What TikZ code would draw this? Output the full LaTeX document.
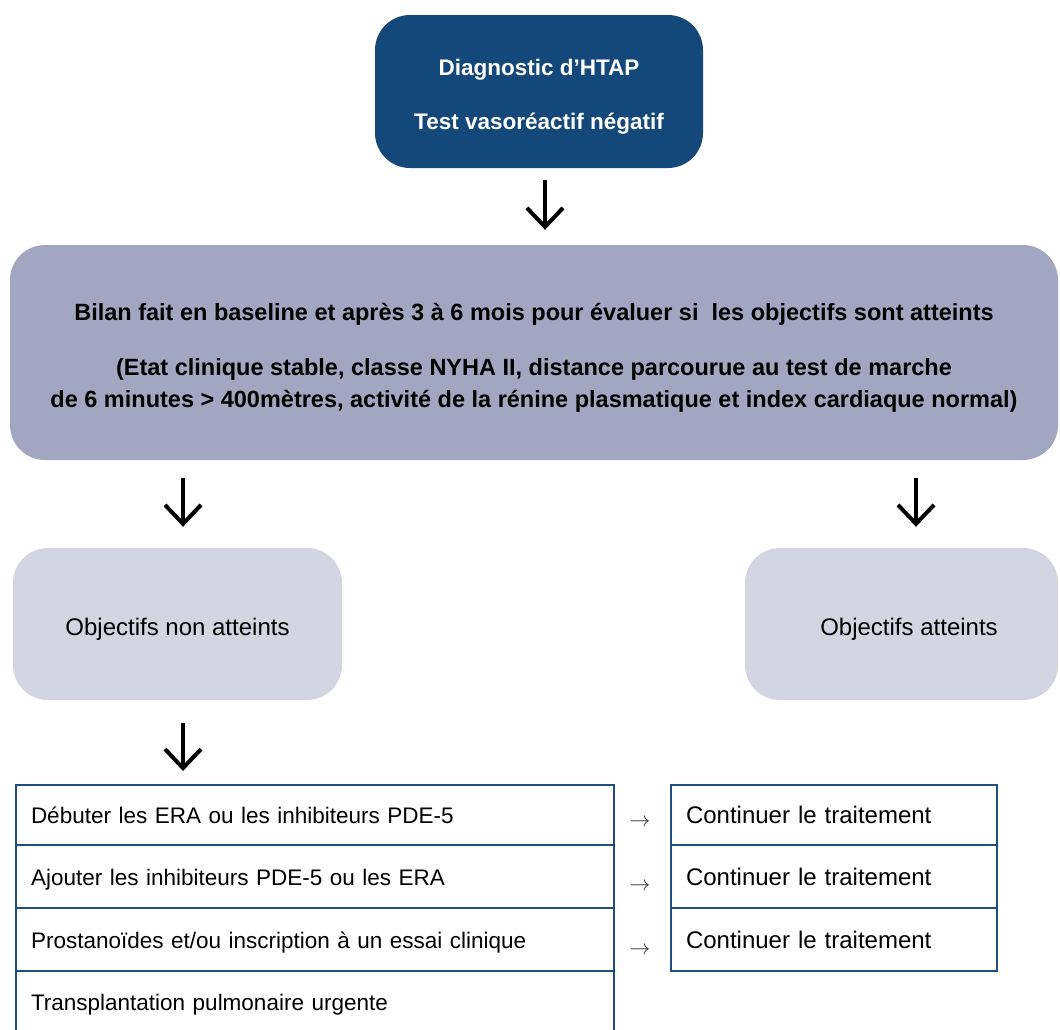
\documentclass[tikz,border=0pt]{standalone}
\usepackage{fontspec}
\setmainfont{Liberation Sans}
\usetikzlibrary{positioning,arrows.meta}
\definecolor{HtapBlue}{RGB}{21,72,122}
\definecolor{BilanGray}{RGB}{163,166,192}
\definecolor{ResultGray}{RGB}{211,213,227}
\definecolor{TableBlue}{RGB}{31,78,128}
\tikzset{>={Straight Barb[length=19pt,width=36pt]}}
\tikzset{
  bigarrow/.style={->,line width=4pt,black},
  tablecell/.style={draw=TableBlue,line width=2pt,outer sep=0pt,inner xsep=15pt,align=left,
    minimum height=62pt,text height=17pt,text depth=0pt,font=\fontsize{22.5}{27}\selectfont},
  resultbox/.style={fill=ResultGray,rounded corners=35pt,minimum width=329pt,
    minimum height=152pt,text height=27.5pt,text depth=5pt,font=\fontsize{24}{29}\selectfont},
  smallarrow/.style={font=\fontsize{21}{22}\selectfont,text=black!85}
}

\begin{document}
\begin{tikzpicture}[x=1pt,y=-1pt]
        \useasboundingbox (0,0) rectangle (1060,1029);
        % boxes
        \node[fill=HtapBlue,rounded corners=35pt,minimum width=328pt,minimum height=153pt,
              text=white,align=center,font=\bfseries\fontsize{22.5}{27}\selectfont]
              at (539,91.5) (diag) {\rule{0pt}{26.5pt}Diagnostic d'HTAP\\[27pt]Test vasoréactif négatif};
        \node[fill=BilanGray,rounded corners=35pt,minimum width=1048pt,minimum height=215pt,
              align=center,font=\bfseries\fontsize{23.5}{32}\selectfont]
              at (534,352.5) (bilan) {\rule{0pt}{27.5pt}Bilan fait en baseline et après 3 à 6 mois pour évaluer si\ \ les objectifs sont atteints\\[23pt]
              (Etat clinique stable, classe NYHA II, distance parcourue au test de marche\\
              de 6 minutes > 400mètres, activité de la rénine plasmatique et index cardiaque normal)};
        \node[resultbox] at (177.5,624) (nonatt) {Objectifs non atteints};
        \node[resultbox,minimum width=313pt] at (901.5,624) (att) {\hspace*{15pt}Objectifs atteints};
        % table
        \node[tablecell,text width=568pt,minimum height=60pt] at (315,815) (debut) {Débuter les ERA ou les inhibiteurs PDE-5};
        \node[tablecell,text width=568pt,minimum height=63pt,below=0pt of debut] (ajout) {Ajouter les inhibiteurs PDE-5 ou les ERA};
        \node[tablecell,text width=568pt,minimum height=63pt,below=0pt of ajout] (prost) {Prostanoïdes et/ou inscription à un essai clinique};
        \node[tablecell,draw=none,text width=568pt,minimum height=62pt,below=0pt of prost] (transp) {Transplantation pulmonaire urgente};
        \draw[TableBlue,line width=2pt] (transp.north west) -- ([yshift=-12pt]transp.south west)
              (transp.north east) -- ([yshift=-12pt]transp.south east);
        \node[tablecell,text width=296pt,minimum height=60pt,font=\fontsize{24}{29}\selectfont] at (834,815) (cont1) {Continuer le traitement};
        \node[tablecell,text width=296pt,minimum height=63pt,font=\fontsize{24}{29}\selectfont,below=0pt of cont1] (cont2) {Continuer le traitement};
        \node[tablecell,text width=296pt,minimum height=63pt,font=\fontsize{24}{29}\selectfont,below=0pt of cont2] (cont3) {Continuer le traitement};
        \node[smallarrow] at (640,823) (fl1) {$\rightarrow$};
        \node[smallarrow] at (640,887) (fl2) {$\rightarrow$};
        \node[smallarrow] at (640,951) (fl3) {$\rightarrow$};
        % arrows
        \draw[bigarrow,shorten <=12pt,shorten >=15pt] ([xshift=6pt]diag.south) -- ([xshift=6pt]diag.south |- bilan.north);
        \draw[bigarrow,shorten <=18pt,shorten >=21pt] ([xshift=5.5pt]nonatt.north |- bilan.south) -- ([xshift=5.5pt]nonatt.north);
        \draw[bigarrow,shorten <=18pt,shorten >=21pt] ([xshift=14.5pt]att.north |- bilan.south) -- ([xshift=14.5pt]att.north);
        \draw[bigarrow,shorten <=23pt,shorten >=14pt] ([xshift=5.5pt]nonatt.south) -- ([xshift=5.5pt]nonatt.south |- debut.north);
    \end{tikzpicture}
\end{document}
